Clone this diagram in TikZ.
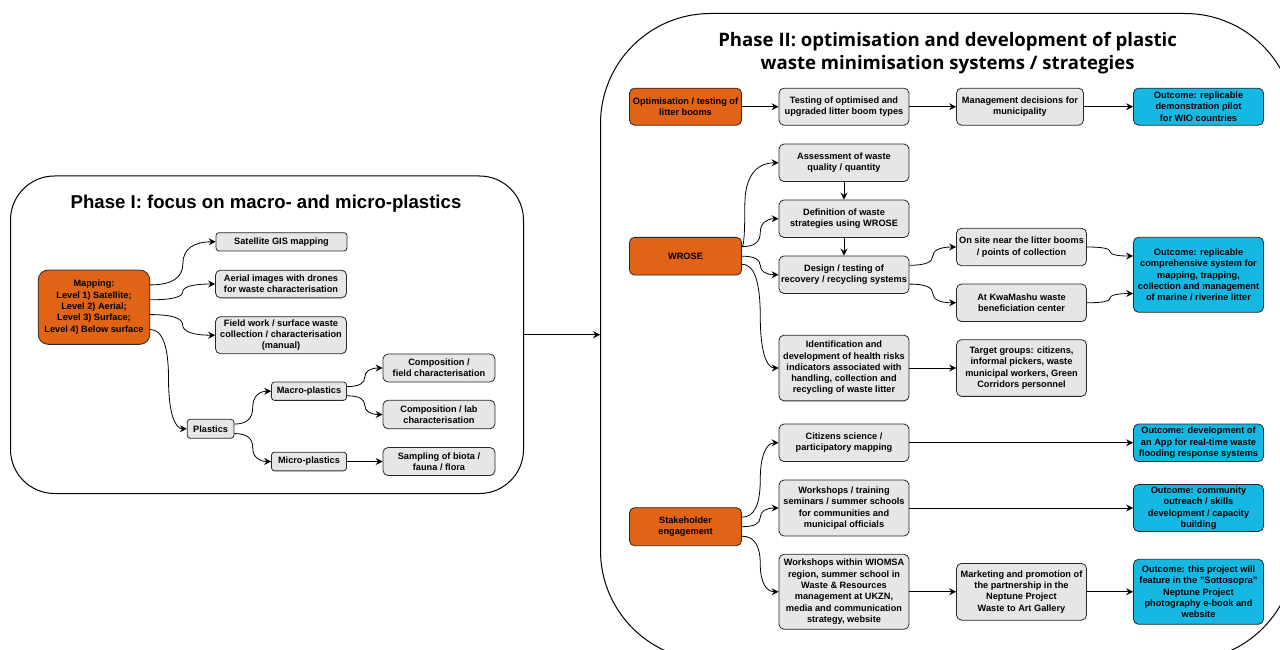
\documentclass[tikz,border=0pt]{standalone}
\usepackage{fontspec}
\setmainfont{Liberation Sans}
\newfontfamily\headfont{Open Sans}
\usetikzlibrary{arrows.meta,calc}
\definecolor{wr_orange}{RGB}{224,99,22}
\definecolor{wr_blue}{RGB}{20,184,226}
\definecolor{wr_gray}{RGB}{230,230,230}
\definecolor{wr_line}{RGB}{40,40,40}

\begin{document}
\begin{tikzpicture}[
  x=1pt,y=-1pt,
  font=\fontsize{9.2}{11.3}\selectfont\bfseries,
  box/.style={draw=wr_line,line width=0.8pt,rounded corners=5pt,fill=wr_gray,
              align=center,inner sep=1pt,minimum width=130pt,minimum height=37.5pt},
  small/.style={box,rounded corners=3pt},
  task/.style={box,fill=wr_orange,minimum width=112pt},
  outcome/.style={box,fill=wr_blue},
  phase/.style={draw,line width=1pt},
  arrow/.style={-{Stealth[length=7pt,width=7pt,inset=2.5pt]},line width=0.8pt},
  curvy/.style={to path={let \p1=(\tikztostart),\p2=(\tikztotarget),
    \n1={\x1+#1*(\x2-\x1)},\n2={0.5*(\y1+\y2)} in
    .. controls ({\x1+2/3*(\n1-\x1)},\y1) and (\n1,{\n2+2/3*(\y1-\n2)}) .. (\n1,\n2)
    .. controls (\n1,{\n2+2/3*(\y2-\n2)}) and ({\x2+2/3*(\n1-\x2)},\y2) .. (\tikztotarget)}},
  curvy/.default=0.5
]
\useasboundingbox (0,0) rectangle (1280,650);

\node[phase,rounded corners=44pt,minimum width=513pt,minimum height=317.5pt] (ph1) at (267,334.75) {};
\node[phase,rounded corners=110pt,minimum width=694.5pt,minimum height=647pt] (ph2) at (947.75,337) {};
\node[font=\fontsize{18.6}{22.4}\selectfont\bfseries,anchor=base] (t1) at (266,208.3)
  {Phase I: focus on macro- and micro-plastics};
\node[font=\headfont\fontsize{18.6}{22.6}\selectfont\bfseries,align=center,anchor=north,inner sep=0pt] (t2) at (947.6,32)
  {Phase II: optimisation and development of plastic\\waste minimisation systems / strategies};

% phase I
\node[task,rounded corners=10pt,minimum width=111.6pt,minimum height=74.3pt] (map) at (94,307.2)
  {Mapping:\\Level 1) Satellite;\\Level 2) Aerial;\\Level 3) Surface;\\Level 4) Below surface};
\node[small,minimum width=131pt,minimum height=18.3pt] (sat) at (281.5,241.8) {Satellite GIS mapping};
\node[box,minimum width=131pt,minimum height=27.7pt] (aer) at (281,284) {Aerial images with drones\\for waste characterisation};
\node[box,minimum width=131pt,minimum height=37pt] (fld) at (281,335.2) {Field work / surface waste\\collection / characterisation\\(manual)};
\node[small,minimum width=46.7pt,minimum height=19pt] (pla) at (210.6,428.8) {Plastics};
\node[small,minimum width=75pt,minimum height=18.3pt] (mac) at (309,391.2) {Macro-plastics};
\node[small,minimum width=75pt,minimum height=18.7pt] (mic) at (309,461.5) {Micro-plastics};
\node[box,minimum width=112pt,minimum height=28pt] (cpf) at (439,368) {Composition /\\field characterisation};
\node[box,minimum width=112pt,minimum height=28.5pt] (cpl) at (439,414.5) {Composition / lab\\characterisation};
\node[box,minimum width=112pt,minimum height=28pt] (smp) at (439,461.5) {Sampling of biota /\\fauna / flora};

\draw[arrow] ([yshift=22.3pt]map.east) to[curvy] (sat.west);
\draw[arrow] ([yshift=7.4pt]map.east) to[curvy] (aer.west);
\draw[arrow] ([yshift=-7.4pt]map.east) to[curvy] (fld.west);
\draw[arrow] ([yshift=-22.3pt]map.east) to[curvy] (pla.west);
\draw[arrow] ([yshift=4.75pt]pla.east) to[curvy] (mac.west);
\draw[arrow] ([yshift=-4.75pt]pla.east) to[curvy] (mic.west);
\draw[arrow] ([yshift=4.6pt]mac.east) to[curvy] (cpf.west);
\draw[arrow] ([yshift=-4.6pt]mac.east) to[curvy] (cpl.west);
\draw[arrow] (mic) -- (smp);

\draw[arrow] (ph1.east) -- (ph1.east -| ph2.west);

% phase II
\node[task,minimum height=37pt] (opt) at (685.5,106.7) {Optimisation / testing of\\litter booms};
\node[box,minimum height=37pt] (tst) at (844,106.7) {Testing of optimised and\\upgraded litter boom types};
\node[box,minimum width=127pt,minimum height=37pt] (mgt) at (1020,106.7) {Management decisions for\\municipality};
\node[outcome,minimum height=37pt] (owio) at (1198.5,106.7) {Outcome: replicable\\demonstration pilot\\for WIO countries};

\node[task,minimum height=37.7pt] (wrose) at (685.5,256.2) {WROSE};
\node[box] (asm) at (844,162.8) {Assessment of waste\\quality / quantity};
\node[box] (dfn) at (844,218.7) {Definition of waste\\strategies using WROSE};
\node[box] (dsg) at (844,274.7) {Design / testing of\\recovery / recycling systems};
\node[box] (ons) at (1021.5,247) {On site near the litter booms\\/ points of collection};
\node[box] (kwa) at (1021.5,302.8) {At KwaMashu waste\\beneficiation center};
\node[outcome,minimum height=75pt] (osys) at (1198.5,274.8)
  {Outcome: replicable\\comprehensive system for\\mapping, trapping,\\collection and management\\of marine / riverine litter};
\node[box,minimum height=65.7pt] (idn) at (844,368)
  {Identification and\\development of health risks\\indicators associated with\\handling, collection and\\recycling of waste litter};
\node[box,minimum height=56.7pt] (tgt) at (1021.5,368)
  {Target groups: citizens,\\informal pickers, waste\\municipal workers, Green\\Corridors personnel};

\node[task,minimum height=38pt] (stk) at (685.5,526.7) {Stakeholder\\engagement};
\node[box] (cit) at (844,442.8) {Citizens science /\\participatory mapping};
\node[outcome] (oapp) at (1198.5,442.8) {Outcome: development of\\an App for real-time waste\\flooding response systems};
\node[box,minimum height=56pt] (trn) at (844,508)
  {Workshops / training\\seminars / summer schools\\for communities and\\municipal officials};
\node[outcome,minimum height=47pt] (ocom) at (1198.5,508)
  {Outcome: community\\outreach / skills\\development / capacity\\building};
\node[box,minimum height=75pt] (wio) at (844,591.8)
  {Workshops within WIOMSA\\region, summer school in\\Waste \& Resources\\management at UKZN,\\media and communication\\strategy, website};
\node[box,minimum height=56.7pt] (mkt) at (1021.5,591.8)
  {Marketing and promotion of\\the partnership in the\\Neptune Project\\Waste to Art Gallery};
\node[outcome,minimum height=65pt] (osot) at (1198.5,591.8)
  {Outcome: this project will\\feature in the "Sottosopra"\\Neptune Project\\photography e-book and\\website};

\draw[arrow] (opt) -- (tst);
\draw[arrow] (tst) -- (mgt);
\draw[arrow] (mgt) -- (owio);
\draw[arrow] ([yshift=9.5pt]wrose.east) to[curvy=0.08] (asm.west);
\draw[arrow] ([yshift=9.5pt]wrose.east) to[curvy] (dfn.west);
\draw[arrow] (wrose.east) to[curvy] (dsg.west);
\draw[arrow] ([yshift=-8pt]wrose.east) to[curvy] (idn.west);
\draw[arrow] (asm) -- (dfn);
\draw[arrow] (dfn) -- (dsg);
\draw[arrow] ([yshift=9.4pt]dsg.east) to[curvy] (ons.west);
\draw[arrow] ([yshift=-9.4pt]dsg.east) to[curvy] (kwa.west);
\draw[arrow] (ons.east) to[curvy] ([yshift=18.75pt]osys.west);
\draw[arrow] (kwa.east) to[curvy] ([yshift=-18.75pt]osys.west);
\draw[arrow] (idn) -- (tgt);
\draw[arrow] ([yshift=9.5pt]stk.east) to[curvy] (cit.west);
\draw[arrow] (stk.east) to[curvy] (trn.west);
\draw[arrow] ([yshift=-9.5pt]stk.east) to[curvy] (wio.west);
\draw[arrow] (cit) -- (oapp);
\draw[arrow] (trn) -- (ocom);
\draw[arrow] (wio) -- (mkt);
\draw[arrow] (mkt) -- (osot);
\end{tikzpicture}
\end{document}
